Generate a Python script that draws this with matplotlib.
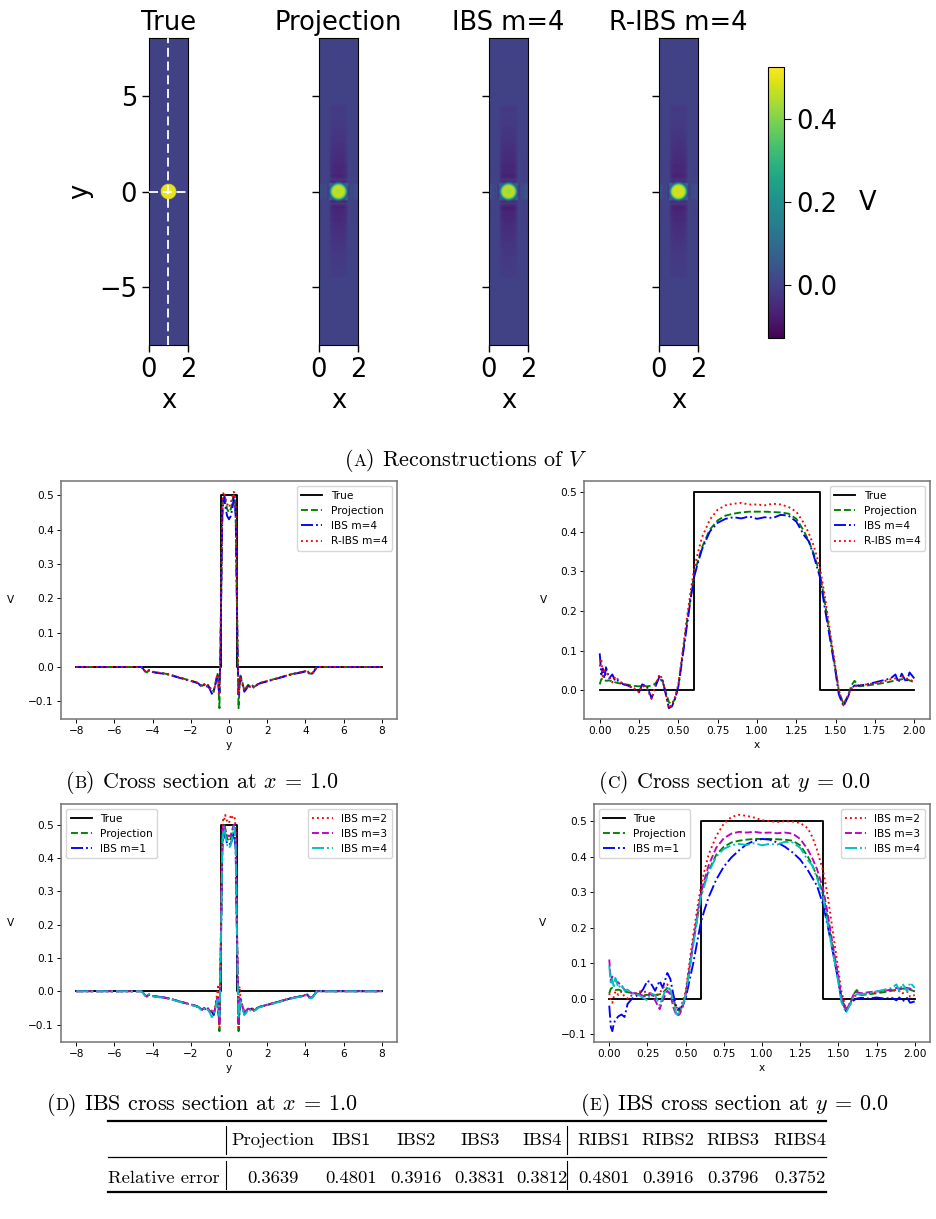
import numpy as np
import matplotlib
matplotlib.use("Agg")
import matplotlib.pyplot as plt
from matplotlib.colors import Normalize
from matplotlib.cm import ScalarMappable
from matplotlib.lines import Line2D
from matplotlib.offsetbox import TextArea, HPacker, AnchoredOffsetbox

plt.rcParams['mathtext.fontset'] = 'cm'

# ---------------- data ----------------
# true field: disk
DISK_CENTER = (1.0, 0.0)
DISK_RADIUS = 0.4
DISK_VALUE = 0.5
CBAR_MIN, CBAR_MAX = -0.128, 0.525
CBAR_TICKS = [0.0, 0.2, 0.4]

# cross section at x = 1.0 (along y)
Y = [-8, -4.8, -4.6, -4.5, -4.4, -4.3, -4.2, -4.1, -4.0, -3.8,
     -3.5, -3.2, -3.0, -2.7, -2.5, -2.2, -2.0, -1.8, -1.6, -1.5,
     -1.4, -1.3, -1.2, -1.1, -1.0, -0.9, -0.8, -0.7, -0.65, -0.6,
     -0.55, -0.5, -0.45, -0.4, -0.35, -0.3, -0.25, -0.2, -0.1,
     0.0,
     0.1, 0.2, 0.25, 0.3, 0.35, 0.4, 0.45, 0.5, 0.55, 0.6,
     0.7, 0.8, 0.9, 1.0, 1.1, 1.2, 1.3, 1.4, 1.5, 1.6,
     1.8, 2.0, 2.2, 2.5, 2.7, 3.0, 3.2, 3.5, 3.8, 4.0,
     4.1, 4.2, 4.3, 4.4, 4.5, 4.6, 4.8, 8]
TRUE_Y = [-8, -0.4, -0.4, 0.4, 0.4, 8]
TRUE_VY = [0, 0, 0.5, 0.5, 0, 0]
PROJ_Y = [0, 0, 0, -0.004, -0.012, -0.016, -0.010, -0.011, -0.014, -0.016,
          -0.018, -0.021, -0.024, -0.029, -0.032, -0.037, -0.040, -0.043, -0.047, -0.052,
          -0.055, -0.050, -0.058, -0.052, -0.062, -0.060, -0.072, -0.045, -0.030, -0.020,
          -0.060, -0.120, 0.050, 0.250, 0.450, 0.490, 0.500, 0.490, 0.460,
          0.450,
          0.460, 0.490, 0.500, 0.490, 0.450, 0.250, 0.050, -0.120, -0.060, -0.025,
          -0.045, -0.068, -0.060, -0.052, -0.056, -0.052, -0.058, -0.055, -0.050, -0.047,
          -0.044, -0.041, -0.038, -0.033, -0.030, -0.025, -0.022, -0.018, -0.015, -0.012,
          -0.010, -0.018, -0.020, -0.016, -0.008, 0, 0, 0]
IBS4_Y = [0, 0, 0, -0.005, -0.013, -0.015, -0.009, -0.012, -0.015, -0.017,
          -0.019, -0.022, -0.025, -0.030, -0.033, -0.038, -0.041, -0.044, -0.048, -0.054,
          -0.058, -0.052, -0.060, -0.055, -0.065, -0.078, -0.070, -0.048, -0.035, -0.025,
          -0.050, -0.075, 0.040, 0.240, 0.440, 0.485, 0.495, 0.470, 0.440,
          0.430,
          0.440, 0.470, 0.495, 0.485, 0.440, 0.240, 0.040, -0.080, -0.050, -0.030,
          -0.050, -0.072, -0.065, -0.055, -0.058, -0.054, -0.060, -0.056, -0.051, -0.048,
          -0.045, -0.042, -0.039, -0.034, -0.031, -0.026, -0.023, -0.019, -0.016, -0.013,
          -0.012, -0.020, -0.022, -0.017, -0.009, 0, 0, 0]
RIBS4_Y = [0, 0, 0, -0.004, -0.012, -0.016, -0.011, -0.012, -0.014, -0.016,
           -0.018, -0.021, -0.024, -0.029, -0.032, -0.037, -0.040, -0.043, -0.047, -0.052,
           -0.056, -0.050, -0.059, -0.053, -0.063, -0.068, -0.072, -0.046, -0.032, -0.022,
           -0.055, -0.080, 0.060, 0.260, 0.470, 0.505, 0.510, 0.495, 0.475,
           0.465,
           0.480, 0.500, 0.510, 0.505, 0.470, 0.260, 0.060, -0.080, -0.055, -0.028,
           -0.048, -0.068, -0.062, -0.053, -0.057, -0.053, -0.059, -0.055, -0.050, -0.047,
           -0.044, -0.041, -0.038, -0.033, -0.030, -0.025, -0.022, -0.018, -0.015, -0.012,
           -0.011, -0.019, -0.021, -0.016, -0.008, 0, 0, 0]
IBS1_Y = [0, 0, 0, -0.004, -0.012, -0.015, -0.010, -0.011, -0.014, -0.016,
          -0.018, -0.021, -0.024, -0.029, -0.032, -0.037, -0.040, -0.043, -0.047, -0.052,
          -0.055, -0.050, -0.058, -0.052, -0.062, -0.062, -0.070, -0.045, -0.030, -0.020,
          -0.070, -0.095, 0.030, 0.220, 0.420, 0.470, 0.480, 0.460, 0.445,
          0.440,
          0.445, 0.460, 0.480, 0.470, 0.420, 0.220, 0.030, -0.095, -0.060, -0.025,
          -0.045, -0.068, -0.060, -0.052, -0.056, -0.052, -0.058, -0.055, -0.050, -0.047,
          -0.044, -0.041, -0.038, -0.033, -0.030, -0.025, -0.022, -0.018, -0.015, -0.012,
          -0.010, -0.018, -0.020, -0.016, -0.008, 0, 0, 0]
IBS2_Y = [0, 0, 0, -0.004, -0.012, -0.016, -0.011, -0.012, -0.015, -0.017,
          -0.019, -0.022, -0.025, -0.030, -0.033, -0.038, -0.041, -0.044, -0.048, -0.053,
          -0.056, -0.050, -0.058, -0.052, -0.060, -0.058, -0.065, -0.040, -0.020, 0.005,
          0.020, -0.110, 0.080, 0.290, 0.490, 0.520, 0.515, 0.530, 0.510,
          0.505,
          0.530, 0.520, 0.525, 0.520, 0.490, 0.290, 0.080, -0.115, 0.015, -0.020,
          -0.042, -0.062, -0.058, -0.050, -0.055, -0.050, -0.056, -0.053, -0.049, -0.046,
          -0.043, -0.040, -0.037, -0.032, -0.029, -0.024, -0.021, -0.017, -0.014, -0.011,
          -0.010, -0.017, -0.019, -0.015, -0.007, 0, 0, 0]
IBS3_Y = [0, 0, 0, -0.004, -0.012, -0.016, -0.010, -0.011, -0.014, -0.016,
          -0.018, -0.021, -0.024, -0.029, -0.032, -0.037, -0.040, -0.043, -0.047, -0.052,
          -0.055, -0.050, -0.058, -0.052, -0.062, -0.064, -0.070, -0.045, -0.028, -0.015,
          -0.040, -0.100, 0.060, 0.270, 0.470, 0.500, 0.500, 0.485, 0.470,
          0.465,
          0.470, 0.490, 0.500, 0.500, 0.470, 0.270, 0.060, -0.100, -0.040, -0.022,
          -0.045, -0.066, -0.060, -0.052, -0.056, -0.052, -0.058, -0.055, -0.050, -0.047,
          -0.044, -0.041, -0.038, -0.033, -0.030, -0.025, -0.022, -0.018, -0.015, -0.012,
          -0.010, -0.018, -0.020, -0.016, -0.008, 0, 0, 0]

# cross section at y = 0.0 (along x)
X = [0.0, 0.01, 0.02, 0.03, 0.04, 0.06, 0.08, 0.10, 0.12, 0.15,
     0.18, 0.20, 0.22, 0.25, 0.27, 0.30, 0.33, 0.35, 0.38, 0.40,
     0.42, 0.44, 0.46, 0.48, 0.50, 0.52, 0.55, 0.58, 0.60, 0.62,
     0.65, 0.70, 0.75, 0.80, 0.85, 0.90, 0.95, 1.00, 1.05, 1.10,
     1.15, 1.20, 1.25, 1.30, 1.33, 1.36, 1.40, 1.43, 1.46, 1.50,
     1.52, 1.55, 1.58, 1.60, 1.62, 1.65, 1.70, 1.75, 1.80, 1.85,
     1.88, 1.90, 1.92, 1.95, 1.97, 2.00]
TRUE_X = [0, 0.6, 0.6, 1.4, 1.4, 2.0]
TRUE_VX = [0, 0, 0.5, 0.5, 0, 0]
PROJ_X = [0.015, 0.028, 0.030, 0.026, 0.024, 0.025, 0.022, 0.020, 0.018, 0.016,
          0.014, 0.012, 0.011, 0.010, 0.012, 0.010, 0.012, 0.016, 0.030, 0.022,
          -0.005, -0.030, -0.035, -0.020, 0.010, 0.070, 0.160, 0.240, 0.290, 0.320,
          0.360, 0.405, 0.428, 0.440, 0.445, 0.448, 0.450, 0.450, 0.450, 0.449,
          0.448, 0.445, 0.432, 0.400, 0.375, 0.345, 0.295, 0.225, 0.150, 0.050,
          0.000, -0.035, -0.012, 0.012, 0.024, 0.010, 0.012, 0.015, 0.018, 0.022,
          0.025, 0.026, 0.028, 0.028, 0.025, 0.020]
IBS4_X = [0.093, 0.040, 0.055, 0.030, 0.058, 0.030, 0.040, 0.022, 0.025, 0.015,
          0.012, 0.008, 0.002, -0.005, 0.015, 0.010, -0.020, 0.005, 0.035, 0.025,
          -0.010, -0.045, -0.040, -0.020, 0.010, 0.065, 0.150, 0.235, 0.285, 0.315,
          0.355, 0.400, 0.422, 0.432, 0.436, 0.433, 0.438, 0.432, 0.436, 0.434,
          0.442, 0.440, 0.425, 0.390, 0.375, 0.340, 0.285, 0.210, 0.140, 0.045,
          -0.010, -0.040, -0.015, 0.005, 0.012, 0.012, 0.015, 0.020, 0.025, 0.030,
          0.040, 0.020, 0.042, 0.020, 0.045, 0.030]
RIBS4_X = [0.060, 0.080, 0.030, 0.050, 0.045, 0.035, 0.020, 0.035, 0.025, 0.015,
           0.012, 0.008, 0.005, -0.005, 0.012, 0.005, -0.022, 0.008, 0.040, 0.028,
           -0.010, -0.045, -0.035, -0.015, 0.015, 0.075, 0.170, 0.255, 0.305, 0.340,
           0.385, 0.430, 0.455, 0.466, 0.470, 0.472, 0.468, 0.468, 0.466, 0.470,
           0.468, 0.462, 0.450, 0.420, 0.395, 0.365, 0.310, 0.240, 0.160, 0.055,
           0.000, -0.038, -0.012, 0.005, 0.010, 0.012, 0.015, 0.018, 0.022, 0.028,
           0.030, 0.025, 0.035, 0.030, 0.028, 0.020]
IBS1_X = [-0.020, -0.080, -0.092, -0.070, -0.060, -0.050, -0.045, -0.052, -0.015, 0.000,
          0.008, 0.015, 0.025, 0.050, 0.045, 0.022, 0.050, 0.030, 0.072, 0.055,
          0.010, -0.025, -0.030, -0.020, 0.000, 0.040, 0.100, 0.170, 0.215, 0.245,
          0.285, 0.335, 0.372, 0.398, 0.418, 0.435, 0.445, 0.450, 0.448, 0.440,
          0.428, 0.412, 0.392, 0.362, 0.340, 0.318, 0.265, 0.205, 0.140, 0.050,
          0.000, -0.035, -0.015, -0.005, 0.000, 0.002, 0.000, 0.003, 0.000, 0.002,
          -0.005, 0.003, -0.008, 0.002, -0.012, -0.008]
IBS2_X = [0.015, -0.005, -0.012, 0.005, 0.020, 0.010, 0.020, 0.005, 0.000, 0.010,
          0.015, 0.020, 0.018, 0.020, 0.012, 0.005, 0.015, 0.030, 0.040, 0.020,
          -0.005, -0.025, -0.030, -0.010, 0.020, 0.085, 0.180, 0.265, 0.315, 0.355,
          0.405, 0.458, 0.493, 0.512, 0.518, 0.515, 0.510, 0.503, 0.500, 0.498,
          0.500, 0.499, 0.495, 0.480, 0.455, 0.420, 0.360, 0.290, 0.200, 0.080,
          0.020, -0.030, -0.010, 0.005, 0.010, 0.012, 0.015, 0.018, 0.022, 0.025,
          0.020, 0.022, 0.015, 0.020, 0.005, 0.010]
IBS3_X = [0.110, 0.050, 0.062, 0.055, 0.050, 0.045, 0.035, 0.025, 0.022, 0.015,
          0.015, 0.012, 0.008, 0.005, 0.015, -0.005, -0.030, -0.005, 0.022, 0.012,
          -0.025, -0.048, -0.045, -0.025, 0.010, 0.070, 0.160, 0.245, 0.295, 0.330,
          0.375, 0.425, 0.452, 0.465, 0.470, 0.468, 0.470, 0.467, 0.468, 0.466,
          0.468, 0.465, 0.450, 0.420, 0.395, 0.365, 0.310, 0.240, 0.160, 0.060,
          0.005, -0.035, -0.010, 0.012, 0.018, 0.015, 0.018, 0.020, 0.022, 0.025,
          0.030, 0.028, 0.032, 0.030, 0.028, 0.020]

TABLE_COLS = ['Projection', 'IBS1', 'IBS2', 'IBS3', 'IBS4', 'RIBS1', 'RIBS2', 'RIBS3', 'RIBS4']
TABLE_VALS = [0.3639, 0.4801, 0.3916, 0.3831, 0.3812, 0.4801, 0.3916, 0.3796, 0.3752]
TABLE_ROW = 'Relative error'

# ---------------- figure ----------------
W, H = 937, 1219
fig = plt.figure(figsize=(W / 100, H / 100), dpi=100)


def fpos(l, t, r, b):
    return [l / W, 1 - b / H, (r - l) / W, (b - t) / H]


cmap = plt.get_cmap('viridis')
norm = Normalize(vmin=CBAR_MIN, vmax=CBAR_MAX)
BIG = 18.5

titles = ['True', 'Projection', 'IBS m=4', 'R-IBS m=4']
lefts = [149, 319, 489, 659]
recon = [None, (PROJ_Y, PROJ_X), (IBS4_Y, IBS4_X), (RIBS4_Y, RIBS4_X)]
y0_idx = Y.index(0.0)
xs = np.linspace(0, 2, 201)
ys = np.linspace(-8, 8, 1601)
XX, YY = np.meshgrid(xs, ys)
RR = np.hypot(XX - DISK_CENTER[0], YY - DISK_CENTER[1])
for k in range(4):
    ax = fig.add_axes(fpos(lefts[k], 38, lefts[k] + 39, 345))
    if k == 0:
        Z = np.where(RR <= DISK_RADIUS, DISK_VALUE, 0.0)
        ax.axvline(1.0, color='white', ls='--', lw=1.3, dashes=(5, 2.6), zorder=3)
        ax.axhline(0.0, color='white', ls='--', lw=1.3, dashes=(5, 2.6), zorder=3)
    else:
        cy, cx = recon[k]
        # field built from the two measured cross sections
        fy = np.interp(ys, Y, cy)
        fx = np.interp(xs, X, cx)
        base = np.outer(fy, fx) / cy[y0_idx]
        radial = 0.5 * (np.interp(1 + RR, X, cx) + np.interp(1 - RR, X, cx))
        radial_y = np.interp(RR, Y, cy)
        radial = 0.5 * (radial + np.where(RR < 0.5, radial_y, radial))
        w = np.clip((0.62 - RR) / 0.14, 0, 1)
        Z = w * radial + (1 - w) * base
    ax.imshow(Z, extent=[0, 2, -8, 8], origin='lower', aspect='auto', cmap=cmap, norm=norm,
              interpolation='bilinear')
    ax.set_xlim(0, 2)
    ax.set_ylim(-8, 8)
    ax.set_xticks([0, 2])
    ax.set_yticks([-5, 0, 5])
    ax.tick_params(labelsize=BIG, length=5, width=1)
    if k > 0:
        ax.set_yticklabels([])
    else:
        ax.set_ylabel('y', fontsize=BIG)
    ax.set_xlabel('x', fontsize=BIG)
    ax.set_title(titles[k], fontsize=BIG)

cax = fig.add_axes(fpos(768, 67, 784, 338))
cb = fig.colorbar(ScalarMappable(norm=norm, cmap=cmap), cax=cax)
cb.set_ticks(CBAR_TICKS)
cb.ax.tick_params(labelsize=BIG, length=5)
cb.ax.set_ylabel('V', rotation=0, fontsize=BIG, ha='center', va='center')
cb.ax.yaxis.set_label_coords(6.2, 0.5)

# ---------------- line plots ----------------
FS = 7.6
LW = 1.35


def style(ax, xlabel, vx):
    for s in ax.spines.values():
        s.set_color('0.45')
        s.set_linewidth(1.1)
    ax.tick_params(labelsize=FS, length=2.8, width=0.7, pad=2.5)
    ax.set_xlabel(xlabel, fontsize=FS, labelpad=2.5)
    ax.set_ylabel('V', fontsize=FS, rotation=0, ha='center', va='center')
    ax.yaxis.set_label_coords(vx, 0.5)


# B
axB = fig.add_axes(fpos(61, 481, 397, 719))
axB.plot(TRUE_Y, TRUE_VY, 'k-', lw=LW, label='True')
axB.plot(Y, PROJ_Y, 'g--', lw=LW, label='Projection')
axB.plot(Y, IBS4_Y, 'b-.', lw=LW, label='IBS m=4')
axB.plot(Y, RIBS4_Y, 'r:', lw=LW, label='R-IBS m=4')
axB.set_xticks([-8, -6, -4, -2, 0, 2, 4, 6, 8])
axB.legend(loc='upper right', fontsize=FS)
style(axB, 'y', -0.149)

# C
axC = fig.add_axes(fpos(584, 481, 930, 719))
axC.plot(TRUE_X, TRUE_VX, 'k-', lw=LW, label='True')
axC.plot(X, PROJ_X, 'g--', lw=LW, label='Projection')
axC.plot(X, IBS4_X, 'b-.', lw=LW, label='IBS m=4')
axC.plot(X, RIBS4_X, 'r:', lw=LW, label='R-IBS m=4')
axC.set_xticks([0, 0.25, 0.5, 0.75, 1.0, 1.25, 1.5, 1.75, 2.0])
axC.legend(loc='upper right', fontsize=FS)
style(axC, 'x', -0.1185)

# D
axD = fig.add_axes(fpos(61, 804, 397, 1042))
hD = []
hD += axD.plot(TRUE_Y, TRUE_VY, 'k-', lw=LW, label='True')
hD += axD.plot(Y, PROJ_Y, 'g--', lw=LW, label='Projection')
hD += axD.plot(Y, IBS1_Y, 'b-.', lw=LW, label='IBS m=1')
hD += axD.plot(Y, IBS2_Y, 'r:', lw=LW, label='IBS m=2')
hD += axD.plot(Y, IBS3_Y, 'm--', lw=LW, label='IBS m=3')
hD += axD.plot(Y, IBS4_Y, 'c-.', lw=LW, label='IBS m=4')
axD.set_xticks([-8, -6, -4, -2, 0, 2, 4, 6, 8])
lD = axD.legend(handles=hD[:3], loc='upper left', fontsize=FS)
axD.add_artist(lD)
axD.legend(handles=hD[3:], loc='upper right', fontsize=FS)
style(axD, 'y', -0.149)

# E
axE = fig.add_axes(fpos(594, 804, 930, 1042))
hE = []
hE += axE.plot(TRUE_X, TRUE_VX, 'k-', lw=LW, label='True')
hE += axE.plot(X, PROJ_X, 'g--', lw=LW, label='Projection')
hE += axE.plot(X, IBS1_X, 'b-.', lw=LW, label='IBS m=1')
hE += axE.plot(X, IBS2_X, 'r:', lw=LW, label='IBS m=2')
hE += axE.plot(X, IBS3_X, 'm--', lw=LW, label='IBS m=3')
hE += axE.plot(X, IBS4_X, 'c-.', lw=LW, label='IBS m=4')
axE.set_xticks([0, 0.25, 0.5, 0.75, 1.0, 1.25, 1.5, 1.75, 2.0])
lE = axE.legend(handles=hE[:3], loc='upper left', fontsize=FS)
axE.add_artist(lE)
axE.legend(handles=hE[3:], loc='upper right', fontsize=FS)
style(axE, 'x', -0.152)

# ---------------- captions ----------------
CAP = 15.9


def caption(xc, yc, letter, rest, size=CAP):
    tp = dict(family='cmr10', size=size)
    tps = dict(family='cmr10', size=size * 0.78)
    kids = [TextArea('(', textprops=tp), TextArea(letter, textprops=tps),
            TextArea(')', textprops=tp), TextArea(' ' + rest, textprops=tp)]
    pk = HPacker(children=kids, align='baseline', pad=0, sep=0)
    ab = AnchoredOffsetbox(loc='center', child=pk, bbox_to_anchor=(xc / W, 1 - yc / H),
                           bbox_transform=fig.transFigure, frameon=False, pad=0, borderpad=0)
    fig.add_artist(ab)


caption(466, 460, 'A', 'Reconstructions of $V$')
caption(202, 782, 'B', r'Cross section at $x\:=\:1.0$')
caption(735, 782, 'C', r'Cross section at $y\:=\:0.0$')
caption(202, 1105, 'D', r'IBS cross section at $x\:=\:1.0$')
caption(735, 1105, 'E', r'IBS cross section at $y\:=\:0.0$')

# ---------------- table ----------------
TFS = 13.4
col_x = [273, 351, 416, 480, 542, 604, 668, 733, 800]


def hline(x0, x1, y, lw):
    fig.add_artist(Line2D([x0 / W, x1 / W], [1 - y / H, 1 - y / H], transform=fig.transFigure,
                          color='k', lw=lw))


def vline(x, y0, y1):
    fig.add_artist(Line2D([x / W, x / W], [1 - y0 / H, 1 - y1 / H], transform=fig.transFigure,
                          color='k', lw=0.8))


hline(108, 826, 1121, 1.6)
hline(108, 826, 1157, 0.9)
hline(108, 826, 1192, 1.6)
for xv in (226, 567):
    vline(xv, 1126, 1154)
    vline(xv, 1161, 1189)
for cx_, name, val in zip(col_x, TABLE_COLS, TABLE_VALS):
    fig.text(cx_ / W, 1 - 1140 / H, name, family='cmr10', fontsize=TFS, ha='center', va='center')
    fig.text(cx_ / W, 1 - 1178 / H, f'{val:.4f}', family='cmr10', fontsize=TFS, ha='center', va='center')
fig.text(108 / W, 1 - 1178 / H, TABLE_ROW, family='cmr10', fontsize=TFS, ha='left', va='center')

fig.savefig('out.png', dpi=100)
